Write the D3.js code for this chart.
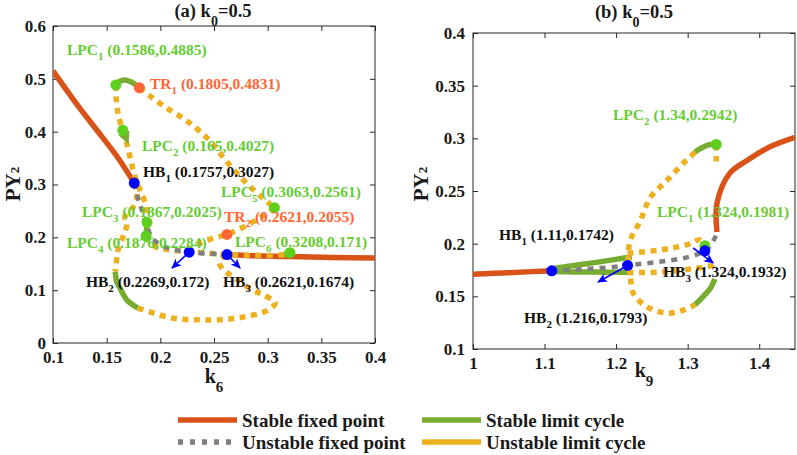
<!DOCTYPE html>
<html><head><meta charset="utf-8">
<script src="https://cdn.jsdelivr.net/npm/d3@7"></script>
<style>
body{margin:0;background:#fff}
svg{display:block}
text{font-family:"Liberation Serif","Times New Roman",serif;font-weight:bold}
</style>
</head><body>
<svg id="c" width="797" height="455"></svg>
<script>
// ---------------- DATA: panel (a), x = k6, y = PY2 ----------------
const leftXTicks = [0.1, 0.15, 0.2, 0.25, 0.3, 0.35, 0.4];
const leftYTicks = [0, 0.1, 0.2, 0.3, 0.4, 0.5, 0.6];
const leftStableFixed = [
  [[0.1,0.515],[0.12,0.458],[0.14,0.405],[0.16,0.352],[0.1757,0.3027]],
  [[0.2621,0.1674],[0.28,0.1655],[0.32,0.1635],[0.36,0.162],[0.4,0.161]]
];
const leftUnstableFixed = [
  [[0.1757,0.3027],[0.179,0.275],[0.183,0.25],[0.187,0.225],[0.192,0.2],[0.2,0.186],[0.212,0.177],[0.2269,0.172],[0.245,0.169],[0.2621,0.1674]]
];
const leftStableCycle = [
  [[0.1586,0.4885],[0.162,0.495],[0.167,0.498],[0.173,0.494],[0.1805,0.4831]],
  [[0.1876,0.2284],[0.1872,0.215],[0.1867,0.2025]],
  [[0.314,0.166],[0.3208,0.171]],
  [[0.158,0.135],[0.1595,0.115],[0.1624,0.104],[0.169,0.081],[0.179,0.066]]
];
const leftUnstableCycle = [
  [[0.1805,0.4831],[0.19,0.468],[0.205,0.446],[0.225,0.42],[0.245,0.385],[0.262,0.343],[0.28,0.303],[0.295,0.275],[0.3063,0.2561]],
  [[0.1586,0.4885],[0.159,0.46],[0.161,0.43],[0.165,0.4027]],
  [[0.165,0.4027],[0.169,0.375],[0.172,0.35],[0.175,0.325],[0.178,0.305],[0.182,0.285],[0.186,0.265],[0.188,0.245],[0.1876,0.2284]],
  [[0.1757,0.3027],[0.1785,0.284],[0.1746,0.257],[0.167,0.238],[0.169,0.227],[0.167,0.21],[0.165,0.2],[0.1606,0.176],[0.1596,0.163],[0.158,0.135]],
  [[0.1867,0.2025],[0.19,0.19],[0.197,0.181],[0.21,0.176],[0.2269,0.173],[0.245,0.17],[0.265,0.167],[0.29,0.166],[0.31,0.166],[0.3208,0.171]],
  [[0.3063,0.2561],[0.295,0.24],[0.28,0.222],[0.2621,0.2055],[0.25,0.199],[0.237,0.189],[0.2269,0.178]],
  [[0.179,0.066],[0.19,0.059],[0.212,0.047],[0.234,0.044],[0.256,0.044],[0.277,0.049],[0.3,0.062],[0.307,0.076],[0.296,0.091],[0.286,0.1],[0.268,0.125],[0.258,0.14],[0.255,0.155],[0.2621,0.1674]]
];
const leftLPC = [[0.1586,0.4885],[0.165,0.4027],[0.1867,0.2025],[0.1876,0.2284],[0.3063,0.2561],[0.3208,0.171]];
const leftTR = [[0.1805,0.4831],[0.2621,0.2055]];
const leftHB = [[0.1757,0.3027],[0.2269,0.172],[0.2621,0.1674]];
const leftBlueArrows = [[[0.2269,0.172],[0.2109,0.142]], [[0.2621,0.1674],[0.2743,0.142]]];
const leftGreenArrows = [[[0.165,0.4027],[0.1699,0.3786]]];
const leftLabels = [
  {name:"LPC", sub:"1", val:"(0.1586,0.4885)", kind:"LPC", at:[0.1130,0.5451]},
  {name:"TR",  sub:"1", val:"(0.1805,0.4831)", kind:"TR",  at:[0.1904,0.4808]},
  {name:"LPC", sub:"2", val:"(0.165,0.4027)",  kind:"LPC", at:[0.1829,0.3634]},
  {name:"HB",  sub:"1", val:"(0.1757,0.3027)", kind:"HB",  at:[0.1839,0.3142]},
  {name:"LPC", sub:"5", val:"(0.3063,0.2561)", kind:"LPC", at:[0.2565,0.2763]},
  {name:"LPC", sub:"3", val:"(0.1867,0.2025)", kind:"LPC", at:[0.1270,0.2385]},
  {name:"TR",  sub:"2", val:"(0.2621,0.2055)", kind:"TR",  at:[0.2593,0.2290]},
  {name:"LPC", sub:"4", val:"(0.1876,0.2284)", kind:"LPC", at:[0.1130,0.1798]},
  {name:"LPC", sub:"6", val:"(0.3208,0.171)",  kind:"LPC", at:[0.2696,0.1817]},
  {name:"HB",  sub:"2", val:"(0.2269,0.172)",  kind:"HB",  at:[0.1307,0.1060]},
  {name:"HB",  sub:"3", val:"(0.2621,0.1674)", kind:"HB",  at:[0.2584,0.1060]}
];

// ---------------- DATA: panel (b), x = k9, y = PY2 ----------------
const rightXTicks = [1, 1.1, 1.2, 1.3, 1.4];
const rightYTicks = [0.1, 0.15, 0.2, 0.25, 0.3, 0.35, 0.4];
const rightStableFixed = [
  [[1,0.171],[1.05,0.1725],[1.11,0.1742]],
  [[1.341,0.211],[1.341,0.2386],[1.359,0.267],[1.383,0.279],[1.415,0.292],[1.45,0.301]]
];
const rightUnstableFixed = [
  [[1.11,0.1742],[1.216,0.1793],[1.324,0.1932],[1.341,0.21]]
];
const rightStableCycle = [
  [[1.112,0.1765],[1.17,0.182],[1.222,0.1875]],
  [[1.112,0.1735],[1.17,0.173],[1.222,0.1728]],
  [[1.3105,0.142],[1.322,0.15],[1.332,0.158],[1.338,0.1665]],
  [[1.31,0.287],[1.32,0.291],[1.33,0.294],[1.34,0.2942]]
];
const rightUnstableCycle = [
  [[1.31,0.287],[1.303,0.282],[1.294,0.2766],[1.271,0.26],[1.248,0.244],[1.234,0.222],[1.22,0.2035],[1.217,0.187],[1.22,0.168],[1.224,0.153],[1.243,0.14],[1.271,0.134],[1.294,0.137],[1.3105,0.142]],
  [[1.34,0.2942],[1.34,0.278]],
  [[1.216,0.191],[1.2615,0.194],[1.299,0.199],[1.3175,0.2035],[1.324,0.1981]],
  [[1.216,0.1725],[1.26,0.173],[1.299,0.1755],[1.325,0.178],[1.336,0.18],[1.339,0.185]]
];
const rightLPC = [[1.324,0.1981],[1.34,0.2942]];
const rightHB = [[1.11,0.1742],[1.216,0.1793],[1.324,0.1932]];
const rightBlueArrows = [[[1.216,0.1793],[1.1748,0.1636]], [[1.3077,0.1959],[1.3357,0.1817]]];
const rightGreenArrows = [];
const rightLabels = [
  {name:"LPC", sub:"2", val:"(1.34,0.2942)",  kind:"LPC", at:[1.1957,0.3174]},
  {name:"LPC", sub:"1", val:"(1.324,0.1981)", kind:"LPC", at:[1.2572,0.2253]},
  {name:"HB",  sub:"1", val:"(1.11,0.1742)",  kind:"HB",  at:[1.0363,0.2035]},
  {name:"HB",  sub:"3", val:"(1.324,0.1932)", kind:"HB",  at:[1.2655,0.1684]},
  {name:"HB",  sub:"2", val:"(1.216,0.1793)", kind:"HB",  at:[1.0713,0.1247]}
];

const legendItems = [
  {label:"Stable fixed point", kind:"sfp"},
  {label:"Unstable fixed point", kind:"ufp"},
  {label:"Stable limit cycle", kind:"slc"},
  {label:"Unstable limit cycle", kind:"ulc"}
];

// ---------------- STYLE ----------------
const COL = {sfp:"#D95319", slc:"#77AC30", ulc:"#EDB120", ufp:"#7F7F7F",
  LPC:"#5FCF1E", TR:"#FF6633", HB:"#0000FF",
  LPCtext:"#66CC33", TRtext:"#FF6633", HBtext:"#111111", axis:"#262626"};
const STROKE = {
  sfp:{w:5.5, dash:null}, slc:{w:5.5, dash:null},
  ulc:{w:5.5, dash:"6,5.5"}, ufp:{w:4.5, dash:"6,6"}
};

const svg = d3.select("#c");
const defs = svg.append("defs");
function marker(id, color, path, size){
  defs.append("marker").attr("id", id).attr("viewBox","0 0 10 10")
    .attr("refX", 9).attr("refY", 5).attr("markerWidth", size).attr("markerHeight", size)
    .attr("markerUnits","userSpaceOnUse").attr("orient","auto")
    .append("path").attr("d", path).attr("fill", color);
}
marker("arrBlue", COL.HB, "M0,0.5 L10,5 L0,9.5 L2.5,5 Z", 10);
marker("arrGreen", COL.slc, "M0,0 L10,5 L0,10 Z", 12);

function subText(t, pre, sub, post, subSize, subDy){
  t.append("tspan").text(pre);
  t.append("tspan").attr("font-size", subSize).attr("dy", subDy).text(sub);
  if (post) t.append("tspan").attr("dy", -subDy).text(post);
  return t;
}

function drawPanel(P){
  const x = d3.scaleLinear().domain(P.xDomain).range([P.left, P.right]);
  const y = d3.scaleLinear().domain(P.yDomain).range([P.bottom, P.top]);
  const g = svg.append("g");
  const cid = "clip" + P.id;
  defs.append("clipPath").attr("id", cid).append("rect")
    .attr("x", P.left).attr("y", P.top).attr("width", P.right - P.left).attr("height", P.bottom - P.top);

  const fmt = d3.format("~g");
  const styleAxis = s => {
    s.select(".domain").remove();
    s.attr("font-size", 17).attr("font-family", '"Liberation Serif","Times New Roman",serif')
     .attr("font-weight", "bold").style("color", COL.axis);
    s.selectAll("text").attr("fill", "#1a1a1a");
  };
  g.append("g").attr("transform", `translate(0,${P.bottom})`)
    .call(d3.axisBottom(x).tickValues(P.xTicks).tickSizeInner(-5).tickSizeOuter(0).tickPadding(8).tickFormat(fmt)).call(styleAxis);
  g.append("g").attr("transform", `translate(0,${P.top})`)
    .call(d3.axisTop(x).tickValues(P.xTicks).tickSizeInner(-5).tickSizeOuter(0).tickFormat("")).call(styleAxis);
  g.append("g").attr("transform", `translate(${P.left},0)`)
    .call(d3.axisLeft(y).tickValues(P.yTicks).tickSizeInner(-5).tickSizeOuter(0).tickPadding(P.yPad).tickFormat(fmt)).call(styleAxis);
  g.append("g").attr("transform", `translate(${P.right},0)`)
    .call(d3.axisRight(y).tickValues(P.yTicks).tickSizeInner(-5).tickSizeOuter(0).tickFormat("")).call(styleAxis);
  g.append("rect").attr("x", P.left).attr("y", P.top).attr("width", P.right - P.left).attr("height", P.bottom - P.top)
    .attr("fill", "none").attr("stroke", COL.axis).attr("stroke-width", 1);

  const line = d3.line().x(d => x(d[0])).y(d => y(d[1])).curve(d3.curveCatmullRom.alpha(0.5));
  const lg = g.append("g").attr("clip-path", `url(#${cid})`);
  const drawSet = (set, kind) => set.forEach(s => {
    lg.append("path").attr("d", line(s)).attr("fill", "none")
      .attr("stroke", COL[kind]).attr("stroke-width", STROKE[kind].w)
      .attr("stroke-dasharray", STROKE[kind].dash).attr("stroke-linejoin", "round");
  });
  drawSet(P.sfp, "sfp");
  drawSet(P.slc, "slc");
  drawSet(P.ulc, "ulc");
  drawSet(P.ufp, "ufp");

  P.blueArrows.forEach(a => lg.append("line")
    .attr("x1", x(a[0][0])).attr("y1", y(a[0][1])).attr("x2", x(a[1][0])).attr("y2", y(a[1][1]))
    .attr("stroke", COL.HB).attr("stroke-width", 1.6).attr("marker-end", "url(#arrBlue)"));
  P.greenArrows.forEach(a => lg.append("line")
    .attr("x1", x(a[0][0])).attr("y1", y(a[0][1])).attr("x2", x(a[1][0])).attr("y2", y(a[1][1]))
    .attr("stroke", COL.slc).attr("stroke-width", 2).attr("marker-end", "url(#arrGreen)"));

  const pts = (arr, c) => lg.selectAll(null).data(arr).enter().append("circle")
    .attr("cx", d => x(d[0])).attr("cy", d => y(d[1])).attr("r", 5.5).attr("fill", c);
  pts(P.lpc, COL.LPC); pts(P.tr, COL.TR); pts(P.hb, COL.HB);

  P.labels.forEach(L => {
    const t = g.append("text").attr("x", x(L.at[0])).attr("y", y(L.at[1]))
      .attr("font-size", 15.5).attr("fill", COL[L.kind + "text"]);
    subText(t, L.name, L.sub, " " + L.val, 11, 5);
  });

  // title
  const tt = g.append("text").attr("x", P.titleX).attr("y", P.titleY).attr("text-anchor", "middle")
    .attr("font-size", 18.5).attr("fill", "#1a1a1a");
  subText(tt, P.title[0], P.title[1], P.title[2], 14, 9);
  // x label
  const xl = g.append("text").attr("x", P.xLabelX).attr("y", P.xLabelY).attr("text-anchor", "middle")
    .attr("font-size", 20).attr("fill", "#1a1a1a");
  subText(xl, P.xLabel[0], P.xLabel[1], "", 15, 9);
  // y label
  const yl = g.append("text").attr("transform", `translate(${P.yLabelX},${P.yLabelY}) rotate(-90)`)
    .attr("text-anchor", "middle").attr("font-size", 21).attr("fill", "#1a1a1a");
  subText(yl, "PY", "2", "", 13, -1);
}

drawPanel({
  id:"a", xDomain:[0.1,0.4], yDomain:[0,0.6], left:53, right:375, top:26, bottom:343, yPad:7,
  xTicks:leftXTicks, yTicks:leftYTicks,
  sfp:leftStableFixed, ufp:leftUnstableFixed, slc:leftStableCycle, ulc:leftUnstableCycle,
  lpc:leftLPC, tr:leftTR, hb:leftHB, blueArrows:leftBlueArrows, greenArrows:leftGreenArrows, labels:leftLabels,
  title:["(a) k","0","=0.5"], titleX:213, titleY:17,
  xLabel:["k","6"], xLabelX:214, xLabelY:383, yLabelX:20, yLabelY:184
});
drawPanel({
  id:"b", xDomain:[1,1.45], yDomain:[0.1,0.4], left:473, right:795, top:33, bottom:349, yPad:8,
  xTicks:rightXTicks, yTicks:rightYTicks,
  sfp:rightStableFixed, ufp:rightUnstableFixed, slc:rightStableCycle, ulc:rightUnstableCycle,
  lpc:rightLPC, tr:[], hb:rightHB, blueArrows:rightBlueArrows, greenArrows:rightGreenArrows, labels:rightLabels,
  title:["(b) k","0","=0.5"], titleX:634, titleY:18,
  xLabel:["k","9"], xLabelX:644, xLabelY:377, yLabelX:428, yLabelY:184
});

// legend
const legPos = [{x:178, y:420}, {x:178, y:442}, {x:422, y:420}, {x:422, y:442}];
const lgd = svg.append("g");
legendItems.forEach((it, i) => {
  const p = legPos[i];
  lgd.append("line").attr("x1", p.x).attr("x2", p.x + 59).attr("y1", p.y).attr("y2", p.y)
    .attr("stroke", COL[it.kind]).attr("stroke-width", 5.5)
    .attr("stroke-dasharray", it.kind === "ufp" ? "5,7" : null);
  lgd.append("text").attr("x", p.x + 64).attr("y", p.y + 7).attr("font-size", 19)
    .attr("fill", "#1a1a1a").text(it.label);
});
</script>
</body></html>
